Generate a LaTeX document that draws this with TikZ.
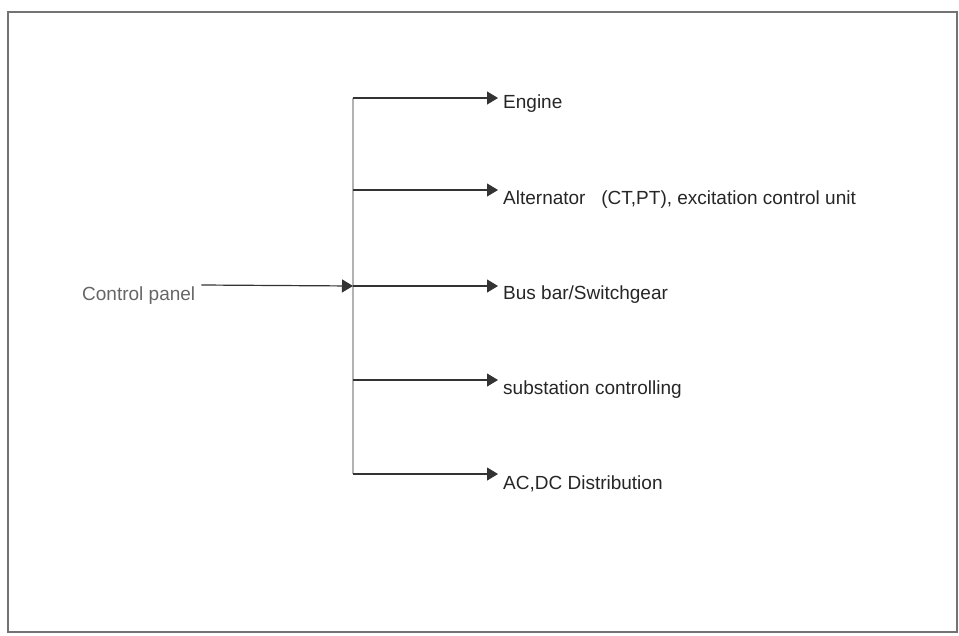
\documentclass[tikz,border=0pt]{standalone}
\usepackage{fontspec}
\setmainfont{Liberation Sans}
\usetikzlibrary{arrows.meta}
\begin{document}
\begin{tikzpicture}[x=1pt,y=-1pt,
  lbl/.style={anchor=west,inner sep=0pt,font=\fontsize{19}{22}\selectfont,text=black!85},
  conn/.style={draw=black!80,line width=1.2pt,-{Triangle[length=11pt,width=13pt]}},
  bus/.style={draw=black!30,line width=1.4pt}]
\useasboundingbox (0,0) rectangle (959,635);
\draw[black!55,line width=1.3pt] (8,12) rectangle (957,632);
\coordinate (top) at (353,98);
\coordinate (bot) at (353,474);
\draw[bus] (top) -- (bot);
\node[lbl,text=black!60] (cp) at (82,296) {Control panel};
\coordinate (j) at (353,286);
\draw[conn] ([xshift=6pt]cp.east |- 0,285) -- (j);
\coordinate (b1) at (353,98);
\coordinate (b2) at (353,190);
\coordinate (b3) at (353,286);
\coordinate (b4) at (353,380);
\coordinate (b5) at (353,474);
\node[lbl] (e) at (503,104) {Engine};
\node[lbl] (a) at (503,200) {Alternator \ \ (CT,PT), excitation control unit};
\node[lbl] (bb) at (503,295) {Bus bar/Switchgear};
\node[lbl] (s) at (503,390) {substation controlling};
\node[lbl] (ac) at (503,484) {AC,DC Distribution};
\draw[conn] (b1) -- ([xshift=-5pt]e.west |- b1);
\draw[conn] (b2) -- ([xshift=-5pt]a.west |- b2);
\draw[conn] (b3) -- ([xshift=-5pt]bb.west |- b3);
\draw[conn] (b4) -- ([xshift=-5pt]s.west |- b4);
\draw[conn] (b5) -- ([xshift=-5pt]ac.west |- b5);
\end{tikzpicture}
\end{document}
